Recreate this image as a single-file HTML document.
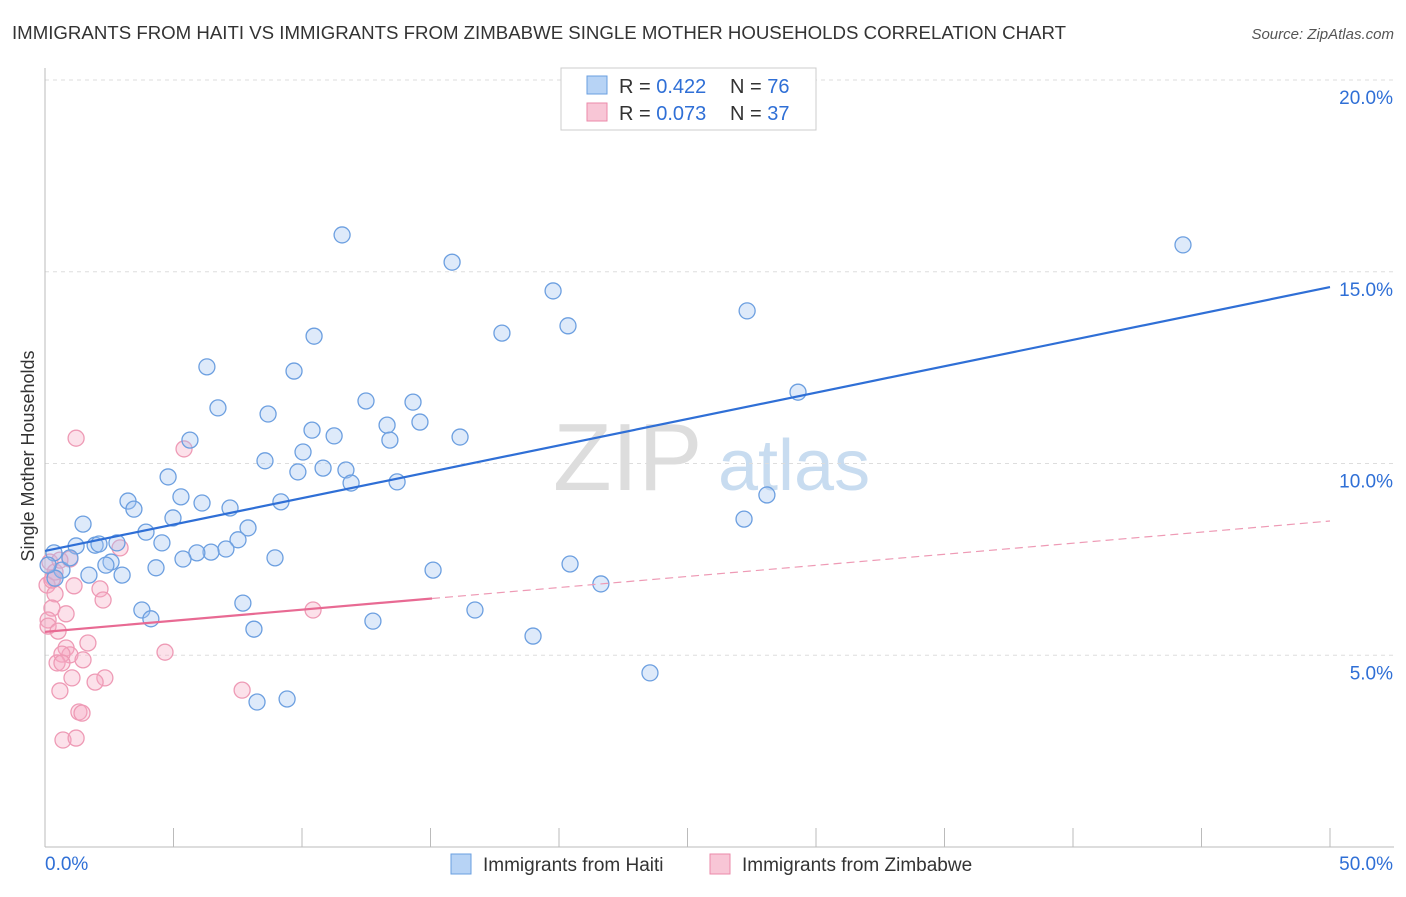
<!DOCTYPE html>
<html><head><meta charset="utf-8"><style>
body{margin:0;background:#fff;font-family:"Liberation Sans",sans-serif;}
svg text{font-family:"Liberation Sans",sans-serif;}
</style></head><body>
<svg id="c" width="1406" height="892">
<text x="12" y="39" font-size="18" fill="#333" textLength="1054" lengthAdjust="spacingAndGlyphs">IMMIGRANTS FROM HAITI VS IMMIGRANTS FROM ZIMBABWE SINGLE MOTHER HOUSEHOLDS CORRELATION CHART</text>
<text x="1394" y="39" font-size="15" fill="#555" text-anchor="end" font-style="italic">Source: ZipAtlas.com</text>
<text transform="translate(34,456) rotate(-90)" font-size="18" fill="#333" text-anchor="middle">Single Mother Households</text>
<g><text x="553" y="490" font-size="96" fill="#ddd" font-family="Liberation Serif">ZIP</text><text x="718" y="490" font-size="72" fill="#c8dcf0">atlas</text></g>
<g id="grid"></g><g id="axes"></g><g id="marks"></g>
<g>
<rect x="561" y="68" width="255" height="62" fill="#fff" stroke="#ccc"/>
<rect x="587" y="76" width="20" height="18" fill="#b7d3f5" stroke="#6a9fe0"/>
<rect x="587" y="103" width="20" height="18" fill="#f8c6d6" stroke="#eb8aaa"/>
<text x="619" y="93" font-size="20" fill="#333">R = <tspan fill="#2f6fd6">0.422</tspan></text>
<text x="730" y="93" font-size="20" fill="#333">N = <tspan fill="#2f6fd6">76</tspan></text>
<text x="619" y="120" font-size="20" fill="#333">R = <tspan fill="#2f6fd6">0.073</tspan></text>
<text x="730" y="120" font-size="20" fill="#333">N = <tspan fill="#2f6fd6">37</tspan></text>
</g>
<g>
<rect x="451" y="854" width="20" height="20" fill="#b7d3f5" stroke="#6a9fe0"/>
<text x="483" y="871" font-size="19" fill="#333">Immigrants from Haiti</text>
<rect x="710" y="854" width="20" height="20" fill="#f8c6d6" stroke="#eb8aaa"/>
<text x="742" y="871" font-size="19" fill="#333">Immigrants from Zimbabwe</text>
</g>
</svg>
<script>
const haitiX=[11.56,15.84,44.28,19.77,20.35,17.78,10.47,27.32,6.30,9.69,29.30,6.73,12.49,8.68,14.32,13.31,14.59,10.39,11.25,13.42,16.15,5.64,10.04,8.56,9.84,10.82,11.71,4.79,11.91,13.70,5.29,3.23,3.46,6.11,7.20,9.18,4.98,1.48,28.09,27.20,7.90,3.93,7.51,4.55,7.04,1.21,1.95,2.80,2.10,6.46,5.91,5.37,8.95,0.35,2.57,2.37,20.43,15.10,4.32,0.66,1.71,3.00,0.97,0.39,21.63,3.77,7.70,4.12,16.73,12.76,8.13,18.99,23.54,8.25,9.42,0.12];
const haitiY=[15.96,15.25,15.70,14.50,13.59,13.40,13.32,13.98,12.52,12.41,11.86,11.45,11.63,11.29,11.60,11.00,11.08,10.87,10.72,10.61,10.69,10.61,10.30,10.07,9.78,9.88,9.83,9.65,9.49,9.52,9.13,9.02,8.81,8.97,8.84,9.00,8.58,8.42,9.18,8.55,8.32,8.21,8.01,7.93,7.77,7.85,7.87,7.93,7.90,7.69,7.67,7.51,7.54,7.67,7.43,7.35,7.38,7.22,7.28,7.22,7.09,7.09,7.54,7.01,6.86,6.18,6.36,5.95,6.18,5.89,5.68,5.50,4.54,3.78,3.86,7.35];
const zimX=[1.21,5.41,0.19,0.97,2.92,0.31,0.08,1.13,0.39,2.14,2.26,0.27,0.82,0.12,10.43,0.12,0.51,1.67,0.82,0.97,0.66,1.48,0.47,4.67,0.66,1.05,2.33,1.95,0.58,7.67,1.32,1.44,0.70,1.21,0.27,0.39,0.58];
const zimY=[10.66,10.38,7.43,7.51,7.80,7.01,6.83,6.81,6.60,6.73,6.44,6.23,6.08,5.92,6.18,5.76,5.63,5.32,5.19,5.01,5.03,4.88,4.80,5.08,4.80,4.41,4.41,4.30,4.07,4.09,3.52,3.49,2.79,2.84,6.96,7.17,7.48];
const haitiTrend=[7.72,0.1376];
const zimTrend=[5.61,0.0578];
const zimSolidEnd=15.06;
const yTicks=[5,10,15,20];
const yTickLabels=["5.0%","10.0%","15.0%","20.0%"];
const xTicks=[0,5,10,15,20,25,30,35,40,45,50];
const NS="http://www.w3.org/2000/svg";
const X=v=>45+v*25.7, Y=v=>847-v*38.35;
function mk(p,t,a){const e=document.createElementNS(NS,t);for(const k in a)e.setAttribute(k,a[k]);document.getElementById(p).appendChild(e);return e;}
yTicks.forEach((t,i)=>{
 let l=mk('grid','line',{x1:45,x2:1394,y1:Y(t),y2:Y(t),stroke:'#ddd','stroke-dasharray':'4,4'});
 
 
 let tx=mk('grid','text',{x:1393,y:Y(t)+24,'font-size':19,fill:'#2f6fd6','text-anchor':'end'});tx.textContent=yTickLabels[i];
 
 
});
mk('axes','line',{x1:45,x2:45,y1:68,y2:847,stroke:'#bbb'});
mk('axes','line',{x1:45,x2:1394,y1:847,y2:847,stroke:'#bbb'});
xTicks.forEach(t=>{let l=mk('axes','line',{x1:X(t),x2:X(t),y1:828,y2:847,stroke:'#bbb'});
 
 });
let a=mk('axes','text',{x:45,y:870,'font-size':19,fill:'#2f6fd6'});a.textContent="0.0%";


let b=mk('axes','text',{x:1393,y:870,'font-size':19,fill:'#2f6fd6','text-anchor':'end'});b.textContent="50.0%";


zimX.forEach((x,i)=>{let c=mk('marks','circle',{cx:X(x),cy:Y(zimY[i]),r:8,fill:'rgba(245,170,195,0.35)',stroke:'#ee9ab5','stroke-width':1.3});
 
 });
haitiX.forEach((x,i)=>{let c=mk('marks','circle',{cx:X(x),cy:Y(haitiY[i]),r:8,fill:'rgba(160,195,240,0.35)',stroke:'#6c9fe0','stroke-width':1.3});
 
 });
let t1=mk('marks','line',{x1:X(0),y1:Y(haitiTrend[0]),x2:X(50),y2:Y(haitiTrend[0]+50*haitiTrend[1]),stroke:'#2f6fd6','stroke-width':2.2});


let t2=mk('marks','line',{x1:X(0),y1:Y(zimTrend[0]),x2:X(zimSolidEnd),y2:Y(zimTrend[0]+zimSolidEnd*zimTrend[1]),stroke:'#e86a93','stroke-width':2.2});


let t3=mk('marks','line',{x1:X(zimSolidEnd),y1:Y(zimTrend[0]+zimSolidEnd*zimTrend[1]),x2:X(50),y2:Y(zimTrend[0]+50*zimTrend[1]),stroke:'#ee9ab5','stroke-width':1.2,'stroke-dasharray':'8,5'});


</script>
</body></html>
